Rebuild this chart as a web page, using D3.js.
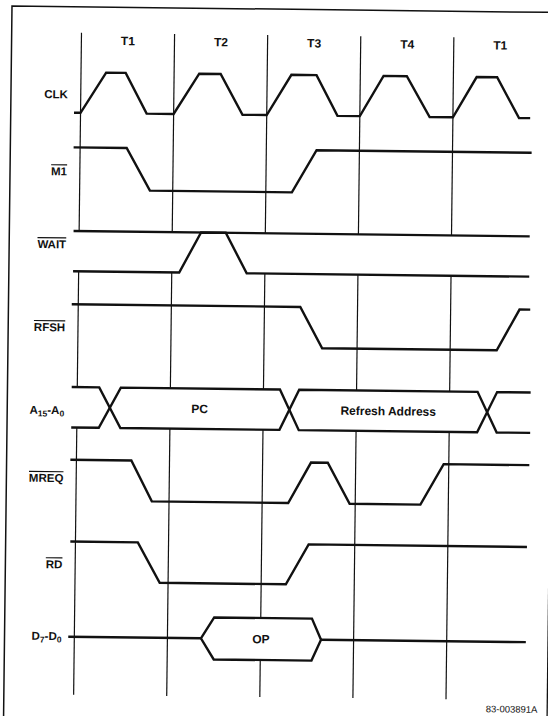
<!DOCTYPE html>
<html><head><meta charset="utf-8">
<script src="https://cdn.jsdelivr.net/npm/d3@7"></script>
<style>
html,body{margin:0;padding:0;background:#fff;}
svg{display:block;}
text{font-family:"Liberation Sans",Arial,Helvetica,sans-serif;font-weight:bold;fill:#111;}
</style></head><body>
<svg id="chart" width="548" height="716"></svg>
<script>
// ---------------- data ----------------
const periods = ["T1", "T2", "T3", "T4", "T1"];
const periodStarts = [0, 1, 2, 3, 4];
const signalNames = ["CLK", "M1", "WAIT", "RFSH", "A15-A0", "MREQ", "RD", "D7-D0"];
const activeLow = ["M1", "WAIT", "RFSH", "MREQ", "RD"];
const clkWave = [[-0.07,0],[0,0],[0.27,1],[0.48,1],[0.71,0],[1,0],[1.27,1],[1.50,1],[1.74,0],[2,0],[2.26,1],[2.53,1],[2.76,0],[3,0],[3.25,1],[3.50,1],[3.75,0],[4,0],[4.25,1],[4.47,1],[4.71,0],[4.83,0]];
const m1Wave = [[-0.07,1],[0.50,1],[0.755,0],[2.28,0],[2.54,1],[4.85,1]];
const waitSpan = [-0.06, 4.84];
const waitWave = [[-0.06,0],[1.08,0],[1.31,1],[1.575,1],[1.805,0],[4.84,0]];
const rfshWave = [[-0.07,1],[2.385,1],[2.625,0],[4.50,0],[4.74,1],[4.855,1]];
const addrSpan = [-0.06, 4.87];
const addrCross = [[0.236,0.468],[2.177,2.384],[4.30,4.51]];
const addrValues = ["", "PC", "Refresh Address", ""];
const mreqWave = [[-0.065,1],[0.59,1],[0.815,0],[2.28,0],[2.52,1],[2.70,1],[2.94,0],[3.70,0],[3.945,1],[4.865,1]];
const rdWave = [[-0.055,1],[0.67,1],[0.91,0],[2.265,0],[2.505,1],[4.85,1]];
const dataSpan = [-0.065, 4.85];
const dataWindow = [1.36, 1.50, 2.55, 2.65];
const dataValue = "OP";
const figureId = "83-003891A";

// ---------------- layout ----------------
const rowLayout = {
  "CLK":    {top: 71.5,  bottom: 112,   label: 97.7},
  "M1":     {top: 146.6, bottom: 189,   label: 174.7},
  "WAIT":   {top: 230.2, bottom: 270.5, label: 247.7},
  "RFSH":   {top: 303.5, bottom: 344.5, label: 330.7},
  "A15-A0": {top: 386.3, bottom: 426.7, label: 413.5},
  "MREQ":   {top: 459,   bottom: 499.7, label: 481.5},
  "RD":     {top: 540.8, bottom: 581,   label: 567.7},
  "D7-D0":  {top: 615,   bottom: 657,   label: 639.5}
};
const ink = "#111";
const sigW = 2.4, gridW = 1.2;

const svg = d3.select("#chart");
const g = svg.append("g").attr("transform", "rotate(0.68,12,6)");

const x = d3.scaleLinear().domain([0, 4]).range([81.8, 454.2]);
const yRow = name => d3.scaleLinear().domain([0, 1]).range([rowLayout[name].bottom, rowLayout[name].top]);
const line = (ys) => d3.line().x(d => x(d[0])).y(d => ys(d[1]));

// page border
g.append("path").attr("d", "M12,740 L12,6 L560,6").attr("fill", "none").attr("stroke", ink).attr("stroke-width", 1.5);
g.append("line").attr("x1", 555.5).attr("x2", 555.5).attr("y1", 6).attr("y2", 760).attr("stroke", ink).attr("stroke-width", 1.3);

// grid lines
g.selectAll("line.grid").data(periodStarts).enter().append("line")
  .attr("class", "grid")
  .attr("x1", d => x(d)).attr("x2", d => x(d))
  .attr("y1", 32).attr("y2", 694)
  .attr("stroke", ink).attr("stroke-width", gridW);

// period labels
g.selectAll("text.period").data(periods).enter().append("text")
  .attr("class", "period")
  .attr("x", (d, i) => x(periodStarts[i] + 0.5))
  .attr("y", 43.8)
  .attr("text-anchor", "middle")
  .attr("font-size", 12)
  .text(d => d);

// masks (white areas that hide grid)
const yW = yRow("WAIT");
g.append("rect").attr("x", x(waitSpan[0])).attr("y", yW(1))
  .attr("width", x(waitSpan[1]) - x(waitSpan[0])).attr("height", yW(0) - yW(1)).attr("fill", "#fff");
const yA = yRow("A15-A0");
g.append("rect").attr("x", x(addrSpan[0])).attr("y", yA(1))
  .attr("width", x(addrSpan[1]) - x(addrSpan[0])).attr("height", yA(0) - yA(1)).attr("fill", "#fff");

// simple waveforms
const waves = [["CLK", clkWave], ["M1", m1Wave], ["RFSH", rfshWave], ["MREQ", mreqWave], ["RD", rdWave], ["WAIT", waitWave]];
waves.forEach(([name, w]) => {
  g.append("path").attr("d", line(yRow(name))(w))
    .attr("fill", "none").attr("stroke", ink).attr("stroke-width", sigW).attr("stroke-linejoin", "miter");
});
// WAIT reference high line
g.append("path").attr("d", line(yW)([[waitSpan[0], 1], [waitSpan[1], 1]]))
  .attr("fill", "none").attr("stroke", ink).attr("stroke-width", sigW);

// address bus
function busTrace(startLevel) {
  const pts = [[addrSpan[0], startLevel]];
  let lv = startLevel;
  addrCross.forEach(c => { pts.push([c[0], lv]); lv = 1 - lv; pts.push([c[1], lv]); });
  pts.push([addrSpan[1], lv]);
  return pts;
}
[1, 0].forEach(s => g.append("path").attr("d", line(yA)(busTrace(s)))
  .attr("fill", "none").attr("stroke", ink).attr("stroke-width", sigW));
const crossMid = addrCross.map(c => (c[0] + c[1]) / 2);
addrValues.forEach((v, i) => {
  if (!v) return;
  const cx = (crossMid[i - 1] + crossMid[i]) / 2;
  g.append("text").attr("x", x(cx)).attr("y", (yA(0) + yA(1)) / 2 + 4.3)
    .attr("text-anchor", "middle").attr("font-size", 12).text(v);
});

// data bus
const yD = yRow("D7-D0");
const hexPts = [[dataWindow[0], 0.5], [dataWindow[1], 1], [dataWindow[2], 1], [dataWindow[3], 0.5], [dataWindow[2], 0], [dataWindow[1], 0]];
g.append("path").attr("d", line(yD)(hexPts) + "Z")
  .attr("fill", "#fff").attr("stroke", ink).attr("stroke-width", sigW).attr("stroke-linejoin", "miter");
g.append("path").attr("d", line(yD)([[dataSpan[0], 0.5], [dataWindow[0], 0.5]]))
  .attr("fill", "none").attr("stroke", ink).attr("stroke-width", sigW);
g.append("path").attr("d", line(yD)([[dataWindow[3], 0.5], [dataSpan[1], 0.5]]))
  .attr("fill", "none").attr("stroke", ink).attr("stroke-width", sigW);
g.append("text").attr("x", x((dataWindow[0] + dataWindow[3]) / 2)).attr("y", yD(0.5) + 4.3)
  .attr("text-anchor", "middle").attr("font-size", 12).text(dataValue);

// signal labels
const labelX = 69;
signalNames.forEach(name => {
  const t = g.append("text").attr("x", labelX).attr("y", rowLayout[name].label)
    .attr("text-anchor", "end").attr("font-size", 11.5);
  const m = name.match(/^([A-Z])(\d+)-([A-Z])(\d+)$/);
  if (m) {
    t.append("tspan").text(m[1]);
    t.append("tspan").attr("font-size", 8.5).attr("dy", 2.5).text(m[2]);
    t.append("tspan").attr("dy", -2.5).text("-" + m[3]);
    t.append("tspan").attr("font-size", 8.5).attr("dy", 2.5).text(m[4]);
  } else {
    t.text(name);
    if (activeLow.includes(name)) t.style("text-decoration", "overline");
  }
});

// figure id
g.append("text").attr("x", 494).attr("y", 706.5).attr("font-size", 9.5)
  .style("font-weight", "normal").text(figureId);
</script>
</body></html>
